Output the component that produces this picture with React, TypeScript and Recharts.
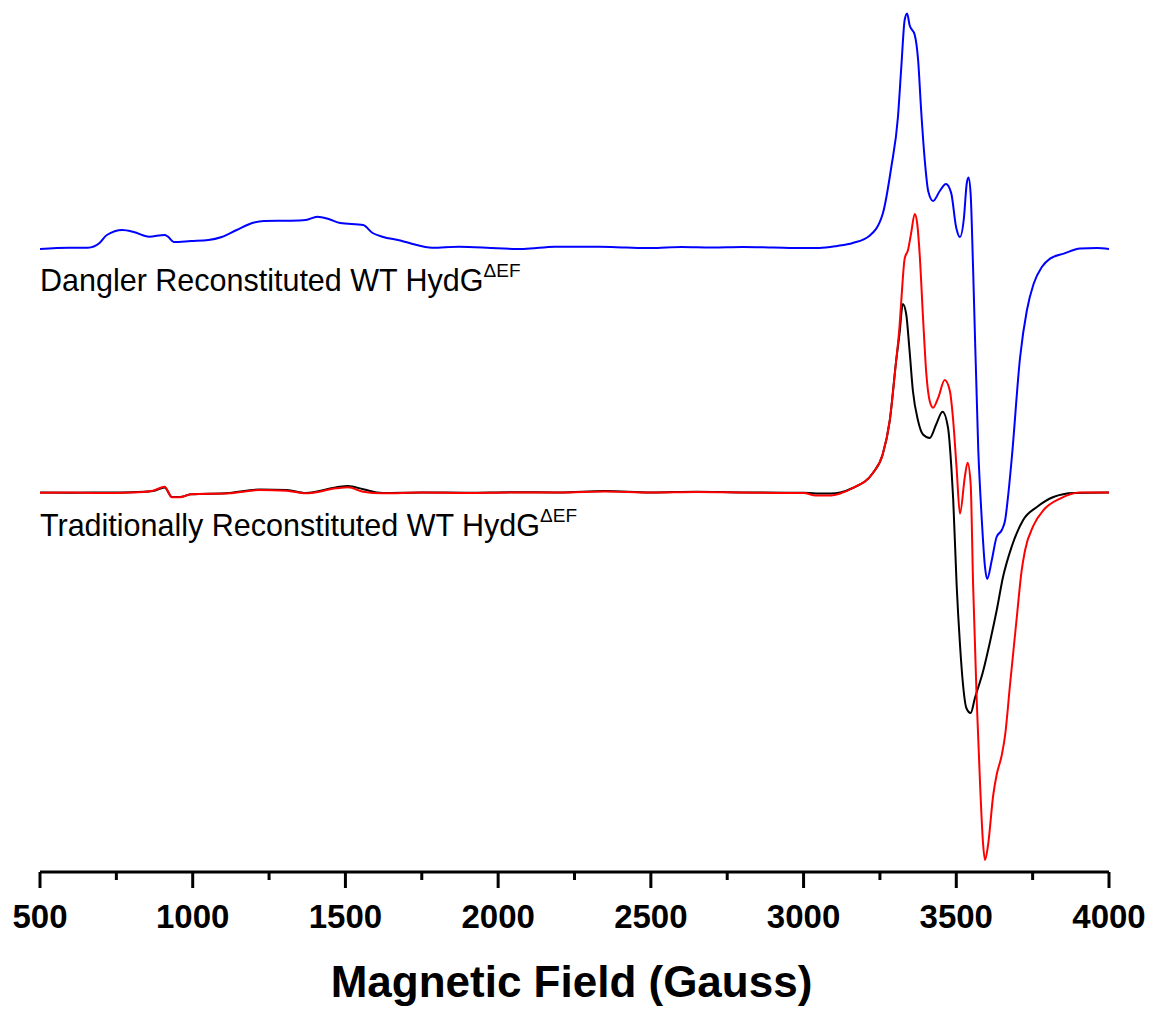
import React from "react";
import { LineChart, Line, XAxis, YAxis } from "recharts";

// Magnetic field (Gauss) and signal (arbitrary units, stacked as plotted)
const danglerField = [
  500, 595, 657, 695, 719, 770, 807, 857, 908, 919, 938, 994, 1051, 1095, 1144, 1195, 1233, 1321, 1370, 1408,
  1445, 1483, 1558, 1589, 1621, 1683, 1720, 1784, 1871, 1997, 2083, 2185, 2272, 2332, 2420, 2500, 2600, 2700,
  2800, 2900, 3000, 3051, 3110, 3161, 3215, 3259, 3287, 3309, 3320, 3331, 3339, 3347, 3364, 3375, 3385, 3397,
  3408, 3424, 3446, 3466, 3483, 3500, 3512, 3525, 3534, 3540, 3547, 3555, 3572, 3583, 3594, 3601, 3616, 3632,
  3649, 3660, 3670, 3682, 3709, 3731, 3753, 3780, 3807, 3852, 3905, 3961, 4000,
];
const danglerSignal = [
  623, 624.3, 624.3, 629, 637, 642, 640, 635.3, 637, 635.3, 630, 631, 632, 635, 642, 649, 651, 651.3, 652, 655.3,
  653, 649, 647, 639, 635.3, 631.3, 628, 624.3, 625.3, 623.7, 623, 625.3, 625.3, 625.3, 624.5, 624, 625, 624.5,
  625, 624.5, 624, 624, 626, 629, 636, 658, 704.5, 755, 805, 852, 858.6, 847, 837, 812, 761.5, 711,
  681, 671, 681, 688, 679.4, 644, 635, 654, 688, 694.4, 678, 604, 422, 355, 305, 293, 311.5, 335,
  342, 352, 377, 415, 515, 561.5, 588, 605, 613.4, 618.4, 623.4, 624, 623,
];

const traditionalField = [
  500, 600, 700, 800, 870, 908, 932, 958, 994, 1120, 1220, 1308, 1370, 1471, 1508, 1558, 1621, 1750, 1900, 2050,
  2200, 2350, 2500, 2650, 2800, 2950, 3000, 3040, 3090, 3120, 3161, 3227, 3259, 3282, 3303, 3314, 3320, 3331,
  3342, 3352, 3364, 3372, 3380, 3391, 3402, 3413, 3424, 3441, 3462, 3479, 3490, 3501, 3512, 3528, 3537, 3547,
  3555, 3567, 3578, 3588, 3594, 3604, 3621, 3632, 3649, 3660, 3676, 3698, 3714, 3725, 3753, 3786, 3840, 3905, 4000,
];
const traditionalRedSignal = [
  379.3, 379.5, 379, 379.5, 381.3, 385.3, 374.7, 374.7, 377.7, 378.7, 382, 381.3, 378.7, 383.7, 384.7, 380.3, 378.7, 379.5, 379, 379.5,
  379.5, 380.5, 379.5, 380, 379.5, 379, 379, 376.5, 376.5, 378.5, 384, 399, 417.4, 451, 511, 545, 571.5, 613.4,
  622, 638.5, 658, 648.5, 618.4, 555, 498, 471, 464.3, 474.3, 492, 481, 451, 404, 358.3, 395.2, 409.3, 388.5,
  288, 171, 87, 27, 12, 27, 77, 97, 117, 137.2, 187.5, 254.5, 301.4, 321.5, 346.6, 362, 373.4, 379.5, 379.5,
];

const blackField = [
  500, 600, 700, 800, 870, 908, 932, 958, 994, 1120, 1220, 1308, 1370, 1471, 1508, 1558, 1621, 1750, 1900, 2050,
  2200, 2350, 2500, 2650, 2800, 2950, 3000, 3040, 3090, 3120, 3161, 3227, 3259, 3282, 3303, 3314, 3325, 3336,
  3347, 3358, 3375, 3391, 3413, 3434, 3455, 3473, 3484, 3490, 3501, 3512, 3522, 3533, 3547, 3561, 3588, 3611,
  3632, 3653, 3681, 3719, 3764, 3818, 3884, 4000,
];
const blackSignal = [
  379.5, 379.3, 379.5, 379.8, 381, 384.5, 375, 375, 377.7, 379, 382.5, 382, 379, 384.7, 386, 382.7, 379, 379.5, 379.3, 379.8,
  379.5, 381, 379.5, 380.3, 379.5, 379.3, 379.3, 378.5, 378.5, 379.5, 384, 399, 417.4, 451, 511, 538, 568.1, 558,
  521.3, 481, 451, 437.5, 434.1, 447.5, 460.3, 444.2, 404, 372, 288, 228, 187.5, 164, 159, 174, 201, 231,
  261.2, 295, 325, 352, 365, 375, 379.1, 379.5,
];

const xTicks = [500, 750, 1000, 1250, 1500, 1750, 2000, 2250, 2500, 2750, 3000, 3250, 3500, 3750, 4000];
const xLabels = [500, 1000, 1500, 2000, 2500, 3000, 3500, 4000];

const toPoints = (fields: number[], values: number[]) => fields.map((x, i) => ({ x, y: values[i] }));

const danglerData = toPoints(danglerField, danglerSignal);
const blackData = toPoints(blackField, blackSignal);
const redData = toPoints(traditionalField, traditionalRedSignal);

const FONT = "'Liberation Sans', Arial, sans-serif";

const Tick = (props: any) => {
  const { x, y, payload } = props;
  const major = xLabels.includes(payload.value);
  return (
    <g>
      <line x1={x} x2={x} y1={y} y2={y + (major ? 16 : 8)} stroke="#000" strokeWidth={3} />
      {major && (
        <text x={x} y={y + 56} textAnchor="middle" fontFamily={FONT} fontWeight="bold" fontSize={33} fill="#000">
          {payload.value}
        </text>
      )}
    </g>
  );
};

const AxisTitle = (props: any) => {
  const { viewBox } = props;
  return (
    <text
      x={viewBox.x + viewBox.width / 2 - 3}
      y={viewBox.y + 125}
      textAnchor="middle"
      fontFamily={FONT}
      fontWeight="bold"
      fontSize={44}
      fill="#000"
    >
      Magnetic Field (Gauss)
    </text>
  );
};

export default function App() {
  const W = 1147;
  const H = 1003;
  return (
    <div style={{ position: "relative", width: W, height: H }}>
      <LineChart width={W} height={H} margin={{ top: 0, right: 46, bottom: 0, left: 32 }}>
        <XAxis
          type="number"
          dataKey="x"
          domain={[500, 4000]}
          ticks={xTicks}
          interval={0}
          allowDataOverflow
          height={139}
          tickSize={0}
          tickMargin={0}
          tickLine={false}
          axisLine={{ stroke: "#000", strokeWidth: 3 }}
          tick={<Tick />}
          label={<AxisTitle />}
        />
        <YAxis type="number" dataKey="y" domain={[0, 864]} hide allowDataOverflow />
        <Line data={blackData} dataKey="y" type="monotone" stroke="#000000" strokeWidth={2} dot={false} isAnimationActive={false} />
        <Line data={redData} dataKey="y" type="monotone" stroke="#FF0000" strokeWidth={2} dot={false} isAnimationActive={false} />
        <Line data={danglerData} dataKey="y" type="monotone" stroke="#0000FF" strokeWidth={2} dot={false} isAnimationActive={false} />
      </LineChart>
      <svg width={W} height={H} style={{ position: "absolute", left: 0, top: 0, pointerEvents: "none" }}>
        <text x={32} y={283} fontFamily={FONT} fontSize={30.5} fill="#000">
          Dangler Reconstituted WT HydG
          <tspan dy={-14} fontSize={19}>ΔEF</tspan>
        </text>
        <text x={32} y={528} fontFamily={FONT} fontSize={30.5} fill="#000">
          Traditionally Reconstituted WT HydG
          <tspan dy={-14} fontSize={19}>ΔEF</tspan>
        </text>
      </svg>
    </div>
  );
}
